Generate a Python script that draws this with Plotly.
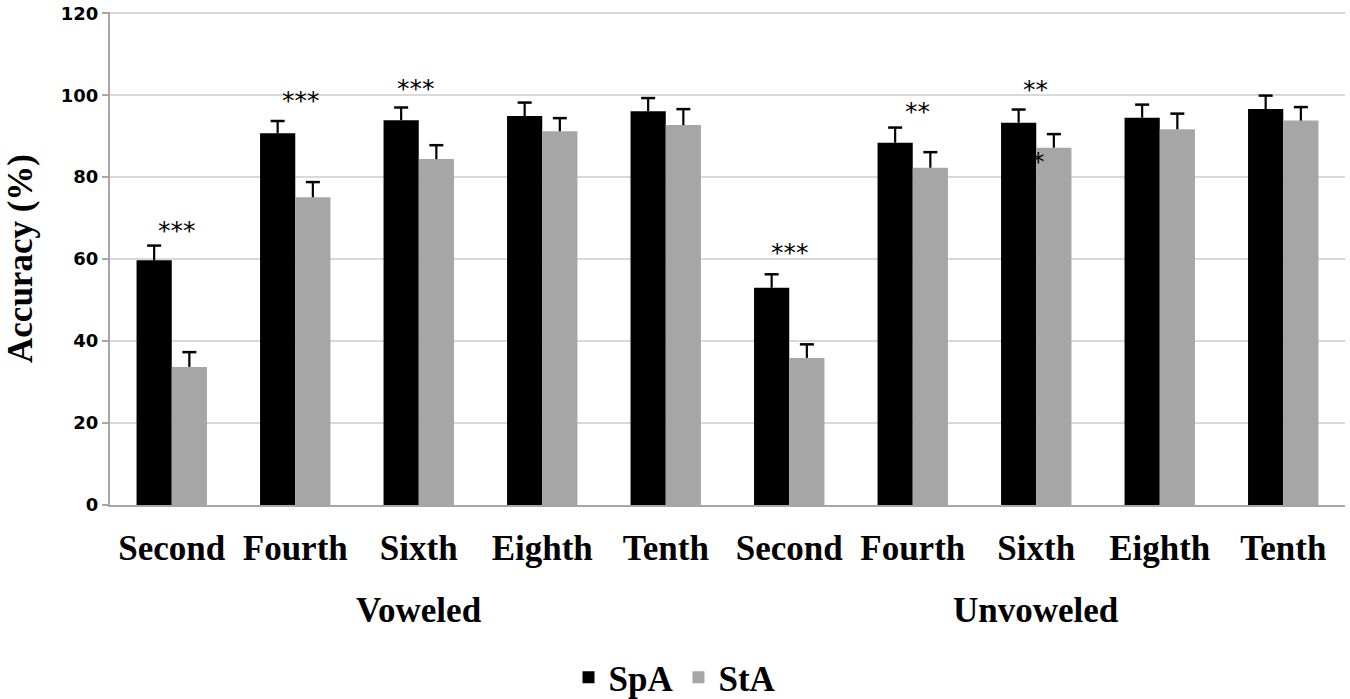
import plotly.graph_objects as go

groups = ["Voweled", "Unvoweled"]
grades = ["Second", "Fourth", "Sixth", "Eighth", "Tenth"]
keys = [g + "-" + s for g in groups for s in grades]
tick_labels = grades + grades

spa_values = [59.7, 90.7, 93.9, 94.9, 96.1, 53.0, 88.4, 93.3, 94.5, 96.6]
spa_errors = [3.6, 3.0, 3.1, 3.3, 3.2, 3.3, 3.7, 3.2, 3.2, 3.3]
sta_values = [33.7, 75.1, 84.4, 91.2, 92.7, 35.9, 82.3, 87.2, 91.7, 93.8]
sta_errors = [3.6, 3.7, 3.4, 3.2, 3.9, 3.3, 3.8, 3.3, 3.8, 3.3]

# significance marks: (category index offset, y value, text)
sig_x = [0.04, 1.05, 1.98, 5.01, 6.04, 6.99, 7.02]
sig_y = [67.1, 98.8, 101.7, 61.5, 95.9, 101.5, 83.7]
sig_text = ["***", "***", "***", "***", "**", "**", "*"]

y_ticks = [0, 20, 40, 60, 80, 100, 120]

serif = "Liberation Serif"
sans = "DejaVu Sans"

fig = go.Figure()
series = [("SpA", spa_values, spa_errors, "#000000", "g1"),
          ("StA", sta_values, sta_errors, "#a6a6a6", "g2")]
for name, vals, errs, col, grp in series:
    fig.add_trace(go.Bar(
        name=name, x=keys, y=vals, marker_color=col, marker_line_width=0,
        offsetgroup=grp, alignmentgroup="a",
        error_y=dict(type="data", array=errs, arrayminus=[0] * len(errs),
                     symmetric=False, color="#000000", thickness=2.2, width=0),
    ))
for name, vals, errs, col, grp in series:
    fig.add_trace(go.Scatter(
        x=keys, y=[v + e for v, e in zip(vals, errs)], mode="markers",
        offsetgroup=grp, alignmentgroup="a", showlegend=False, hoverinfo="skip",
        marker=dict(symbol="line-ew", size=10, line=dict(color="#000000", width=2.5)),
    ))

for sx, sy, st in zip(sig_x, sig_y, sig_text):
    fig.add_annotation(x=sx, y=sy, xref="x", yref="y", text=st, showarrow=False,
                       font=dict(family=sans, size=25, color="#000000"),
                       xanchor="center", yanchor="middle")

for i, g in enumerate(groups):
    fig.add_annotation(x=2 + 5 * i, y=-0.213, xref="x", yref="paper", text=g,
                       showarrow=False, xanchor="center", yanchor="middle",
                       font=dict(family=serif, size=35, color="#000000", weight="bold"))

fig.update_layout(
    width=1350, height=699,
    margin=dict(l=110, r=5, t=12, b=194, autoexpand=False),
    paper_bgcolor="white", plot_bgcolor="white",
    barmode="group", bargap=0.43, bargroupgap=0,
    scattermode="group", scattergap=0.43,
    showlegend=True,
    legend=dict(orientation="h", x=0.4575, xanchor="center",
                y=-0.35, yanchor="middle",
                font=dict(family=serif, size=35, color="#000000", weight="bold")),
    xaxis=dict(
        type="category", tickmode="array", tickvals=keys, ticktext=tick_labels,
        tickfont=dict(family=serif, size=35, color="#000000", weight="bold"),
        tickangle=0, automargin=False,
        showline=True, linecolor="#a6a6a6", linewidth=2, ticks="",
        showgrid=False, ticklabelstandoff=11,
    ),
    yaxis=dict(
        range=[0, 120.3], tickmode="array", tickvals=y_ticks, automargin=False,
        ticklabeloverflow="allow",
        tickfont=dict(family=sans, size=18, color="#000000", weight="bold"),
        showline=True, linecolor="#a6a6a6", linewidth=2,
        ticks="outside", ticklen=6, tickcolor="#a6a6a6", tickwidth=2,
        showgrid=True, gridcolor="#d9d9d9", gridwidth=2, zeroline=False,
        title=dict(text="Accuracy (%)", standoff=18,
                   font=dict(family=serif, size=35, color="#000000", weight="bold")),
    ),
)

fig.write_html("out.html", config={"displayModeBar": False},
               post_script="document.body.style.margin='0';")
